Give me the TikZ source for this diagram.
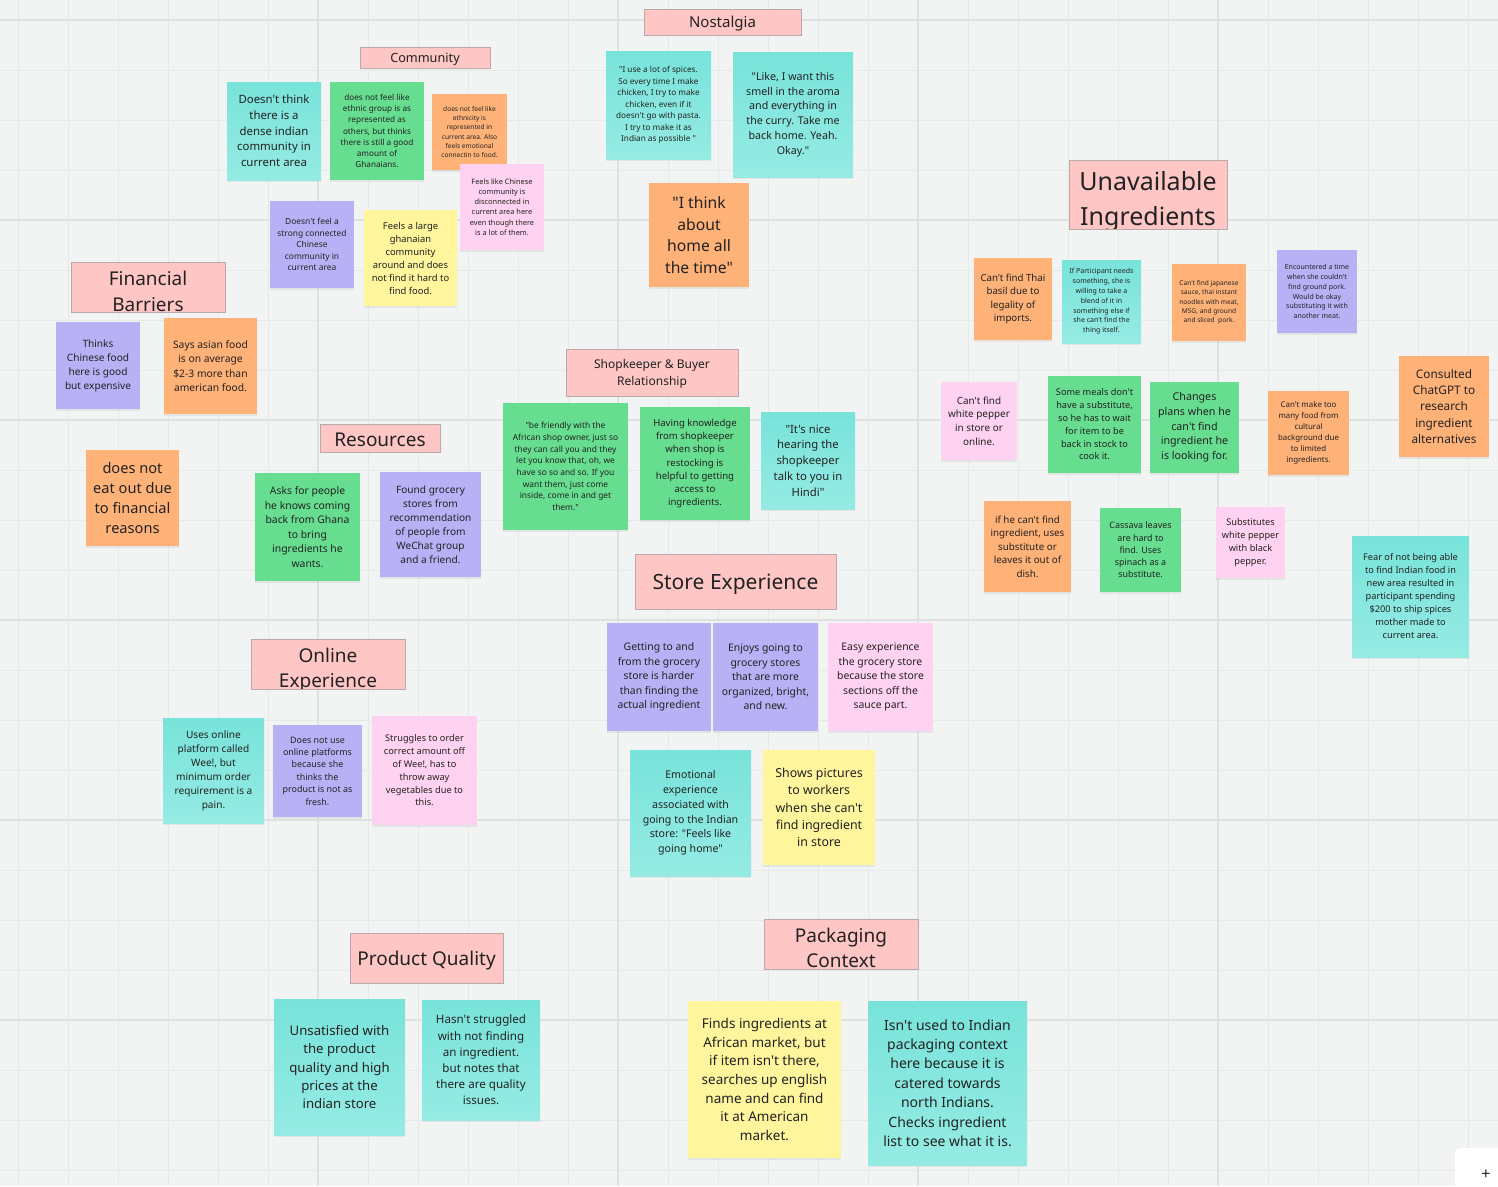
\documentclass[tikz,border=0pt]{standalone}
\usepackage{fontspec}
\setmainfont{Noto Sans}[Ligatures=TeXOff]
\usetikzlibrary{shadows}
\definecolor{bgC}{HTML}{F2F3F3}
\definecolor{gridC}{HTML}{E7E8E8}
\definecolor{gridM}{HTML}{E0E1E1}
\definecolor{txtC}{HTML}{222222}
\definecolor{hdrC}{HTML}{FFC6C6}
\definecolor{hdrB}{HTML}{B9A9A9}
\definecolor{cyanT}{HTML}{78E3DA}
\definecolor{cyanB}{HTML}{95EBE3}
\definecolor{greenC}{HTML}{67DE8F}
\definecolor{orangeC}{HTML}{FFB278}
\definecolor{purpleC}{HTML}{B9B1F6}
\definecolor{pinkC}{HTML}{FFD2F1}
\definecolor{yellowC}{HTML}{FFF59D}
\tikzset{
  note/.style={rectangle, inner sep=0pt, align=center, text=txtC,
    drop shadow={opacity=0.13, shadow xshift=0pt, shadow yshift=-1.5pt}},
  cyanN/.style={note, top color=cyanT, bottom color=cyanB},
  greenN/.style={note, fill=greenC},
  orangeN/.style={note, fill=orangeC},
  purpleN/.style={note, fill=purpleC},
  pinkN/.style={note, fill=pinkC},
  yellowN/.style={note, fill=yellowC},
  hdr/.style={rectangle, inner sep=0pt, fill=hdrC, draw=hdrB, line width=1pt},
  htxt/.style={inner sep=0pt, align=center, text=txtC},
  gridminor/.style={gridC, line width=1pt},
  gridmajor/.style={gridM, line width=1.4pt},
}
% name, style, x1, y1, x2, y2, fontsize, leading, text
\newcommand\sticky[9]{%
  \pgfmathsetmacro\sw{#5-#3}\pgfmathsetmacro\sh{#6-#4}%
  \pgfmathsetmacro\scx{(#3+#5)/2}\pgfmathsetmacro\scy{(#4+#6)/2}%
  \node[#2, minimum width=\sw pt, minimum height=\sh pt,
        font={\fontsize{#7}{#8}\selectfont}] (#1) at (\scx,\scy) {#9};}
% name, x1, y1, x2, y2, fontsize, leading, text centre y, text
\newcommand\header[9]{%
  \pgfmathsetmacro\sw{#4-#2}\pgfmathsetmacro\sh{#5-#3}%
  \pgfmathsetmacro\scx{(#2+#4)/2}\pgfmathsetmacro\scy{(#3+#5)/2}%
  \node[hdr, minimum width=\sw pt, minimum height=\sh pt] (#1) at (\scx,\scy) {};
  \begin{scope}
    \clip (#2+1,#3+1) rectangle (#4-1,#5-1);
    \node[htxt, font={\fontsize{#6}{#7}\selectfont}] (#1-t) at (\scx,#8) {#9};
  \end{scope}}
\begin{document}
\begin{tikzpicture}[x=1pt,y=-1pt]
\fill[bgC] (0,0) rectangle (1498,1186);
\useasboundingbox (0,0) rectangle (1498,1186);
\foreach \gx in {18,68,...,1498} \draw[gridminor] (\gx,0) -- (\gx,1186);
\foreach \gy in {20,70,...,1186} \draw[gridminor] (0,\gy) -- (1498,\gy);
\foreach \gx in {318,618,918,1218} \draw[gridmajor] (\gx,0) -- (\gx,1186);
\foreach \gy in {20,220,420,620,820,1020} \draw[gridmajor] (0,\gy) -- (1498,\gy);

% ---------- headers ----------
\header{nost}{644}{9}{801}{35}{15}{19}{24}{Nostalgia}
\header{comm}{360}{47}{490}{68}{12.7}{16}{59.5}{Community}
\header{unav}{1069}{160}{1227}{229}{25}{35}{201.5}{Unavailable\\Ingredients}
\header{fin}{71}{262}{225}{312}{19}{26}{291.5}{Financial\\Barriers}
\header{shop}{566}{349}{738}{396}{12}{17}{373.5}{Shopkeeper \& Buyer\\Relationship}
\header{res}{320}{424}{440}{452}{19}{24}{440}{Resources}
\header{store}{635}{554}{836}{609}{21}{26}{584}{Store Experience}
\header{online}{251}{639}{405}{689}{19}{25}{670.5}{Online\\Experience}
\header{pq}{350}{933}{503}{983}{19}{24}{960.5}{Product Quality}
\header{pack}{764}{919}{918}{969}{19}{25}{948}{Packaging\\Context}

% ---------- community ----------
\sticky{ca}{cyanN}{227}{82}{321}{180}{11.4}{15.7}{Doesn't think\\there is a\\dense indian\\community in\\current area}
\sticky{cb}{greenN}{330}{82}{424}{180}{8.2}{11.3}{does not feel like\\ethnic group is as\\represented as\\others, but thinks\\there is still a good\\amount of\\Ghanaians.}
\sticky{cc}{orangeN}{432}{94}{507}{170}{6.6}{9.2}{does not feel like\\ethnicity is\\represented in\\current area. Also\\feels emotional\\connectin to food.}
\sticky{cd}{pinkN}{460}{164}{544}{250}{7.4}{10.3}{Feels like Chinese\\community is\\disconnected in\\current area here\\even though there\\is a lot of them.}
\sticky{ce}{purpleN}{270}{201}{354}{288}{8.4}{11.6}{Doesn't feel a\\strong connected\\Chinese\\community in\\current area}
\sticky{cf}{yellowN}{364}{210}{457}{306}{9.4}{13}{Feels a large\\ghanaian\\community\\around and does\\not find it hard to\\find food.}

% ---------- nostalgia ----------
\sticky{na}{cyanN}{606}{51}{711}{159}{8.2}{11.5}{"I use a lot of spices.\\So every time I make\\chicken, I try to make\\chicken, even if it\\doesn't go with pasta.\\I try to make it as\\Indian as possible "}
\sticky{nb}{cyanN}{733}{52}{853}{177}{10.7}{14.7}{"Like, I want this\\smell in the aroma\\and everything in\\the curry. Take me\\back home. Yeah.\\Okay."}
\sticky{nc}{orangeN}{649}{183}{749}{287}{15.7}{21.7}{"I think\\about\\home all\\the time"}

% ---------- unavailable ingredients ----------
\sticky{ua}{orangeN}{974}{258}{1052}{340}{9.7}{13.4}{Can’t find Thai\\basil due to\\legality of\\imports.}
\sticky{ub}{cyanN}{1062}{260}{1141}{343}{7}{9.8}{If Participant needs\\something, she is\\willing to take a\\blend of it in\\something else if\\she can't find the\\thing itself.}
\sticky{uc}{orangeN}{1172}{264}{1246}{341}{6.6}{9.3}{Can't find japanese\\sauce, thai instant\\noodles with meat,\\MSG, and ground\\and sliced\ \ pork.}
\sticky{ud}{purpleN}{1277}{250}{1357}{333}{7}{9.8}{Encountered a time\\when she couldn't\\find ground pork.\\Would be okay\\substituting it with\\another meat.}
\sticky{ue}{pinkN}{941}{382}{1017}{460}{9.9}{13.7}{Can't find\\white pepper\\in store or\\online.}
\sticky{uf}{greenN}{1048}{376}{1141}{473}{9.2}{12.8}{Some meals don't\\have a substitute,\\so he has to wait\\for item to be\\back in stock to\\cook it.}
\sticky{ug}{greenN}{1150}{382}{1239}{473}{10.7}{14.7}{Changes\\plans when he\\can't find\\ingredient he\\is looking for.}
\sticky{uh}{orangeN}{1268}{391}{1349}{475}{7.9}{11}{Can't make too\\many food from\\cultural\\background due\\to limited\\ingredients.}
\sticky{ui}{orangeN}{1399}{356}{1489}{457}{11.8}{16.3}{Consulted\\ChatGPT to\\research\\ingredient\\alternatives}
\sticky{uj}{orangeN}{984}{501}{1071}{592}{9.8}{13.5}{if he can't find\\ingredient, uses\\substitute or\\leaves it out of\\dish.}
\sticky{uk}{greenN}{1100}{508}{1181}{592}{8.9}{12.3}{Cassava leaves\\are hard to\\find. Uses\\spinach as a\\substitute.}
\sticky{ul}{pinkN}{1216}{507}{1285}{578}{9.2}{12.8}{Substitutes\\white pepper\\with black\\pepper.}
\sticky{um}{cyanN}{1352}{536}{1469}{657}{9.2}{13}{Fear of not being able\\to find Indian food in\\new area resulted in\\participant spending\\\$200 to ship spices\\mother made to\\current area.}

% ---------- financial ----------
\sticky{fa}{purpleN}{56}{322}{140}{409}{10.1}{14}{Thinks\\Chinese food\\here is good\\but expensive}
\sticky{fb}{orangeN}{164}{318}{257}{414}{10.3}{14.3}{Says asian food\\is on average\\\$2-3 more than\\american food.}
\sticky{fc}{orangeN}{86}{450}{179}{546}{14.6}{20.2}{does not\\eat out due\\to financial\\reasons}

% ---------- resources ----------
\sticky{ra}{greenN}{255}{473}{360}{581}{10.4}{14.5}{Asks for people\\he knows coming\\back from Ghana\\to bring\\ingredients he\\wants.}
\sticky{rb}{purpleN}{380}{472}{481}{577}{10.1}{14}{Found grocery\\stores from\\recommendation\\of people from\\WeChat group\\and a friend.}

% ---------- shopkeeper ----------
\sticky{sa}{greenN}{503}{403}{628}{530}{8.4}{11.7}{"be friendly with the\\African shop owner, just so\\they can call you and they\\let you know that, oh, we\\have so so and so. If you\\want them, just come\\inside, come in and get\\them."}
\sticky{sb}{greenN}{640}{407}{750}{520}{9.6}{13.3}{Having knowledge\\from shopkeeper\\when shop is\\restocking is\\helpful to getting\\access to\\ingredients.}
\sticky{sc}{cyanN}{761}{412}{855}{509}{11.3}{15.7}{"It's nice\\hearing the\\shopkeeper\\talk to you in\\Hindi"}

% ---------- store experience ----------
\sticky{ea}{purpleN}{607}{623}{711}{731}{10.4}{14.5}{Getting to and\\from the grocery\\store is harder\\than finding the\\actual ingredient}
\sticky{eb}{purpleN}{713}{623}{818}{731}{10.4}{14.5}{Enjoys going to\\grocery stores\\that are more\\organized, bright,\\and new.}
\sticky{ec}{pinkN}{828}{623}{933}{731}{10.4}{14.5}{Easy experience\\the grocery store\\because the store\\sections off the\\sauce part.}
\sticky{ed}{cyanN}{630}{750}{751}{876}{10.6}{14.8}{Emotional\\experience\\associated with\\going to the Indian\\store: "Feels like\\going home"}
\sticky{ee}{yellowN}{763}{750}{875}{865}{12.4}{17.3}{Shows pictures\\to workers\\when she can't\\find ingredient\\in store}

% ---------- online ----------
\sticky{oa}{cyanN}{163}{718}{264}{823}{10.1}{14}{Uses online\\platform called\\Wee!, but\\minimum order\\requirement is a\\pain.}
\sticky{ob}{purpleN}{273}{725}{362}{817}{8.9}{12.4}{Does not use\\online platforms\\because she\\thinks the\\product is not as\\fresh.}
\sticky{oc}{pinkN}{372}{716}{477}{825}{9.2}{12.8}{Struggles to order\\correct amount off\\of Wee!, has to\\throw away\\vegetables due to\\this.}

% ---------- product quality ----------
\sticky{qa}{cyanN}{274}{999}{405}{1135}{13.2}{18.3}{Unsatisfied with\\the product\\quality and high\\prices at the\\indian store}
\sticky{qb}{cyanN}{422}{1000}{540}{1120}{11.6}{16.2}{Hasn't struggled\\with not finding\\an ingredient.\\but notes that\\there are quality\\issues.}

% ---------- packaging ----------
\sticky{pa}{yellowN}{688}{1001}{841}{1158}{13.5}{18.7}{Finds ingredients at\\African market, but\\if item isn't there,\\searches up english\\name and can find\\it at American\\market.}
\sticky{pb}{cyanN}{868}{1001}{1027}{1165}{14}{19.4}{Isn't used to Indian\\packaging context\\here because it is\\catered towards\\north Indians.\\Checks ingredient\\list to see what it is.}

% ---------- corner control ----------
\node[rectangle, rounded corners=6pt, fill=white, inner sep=0pt, minimum width=60pt, minimum height=50pt,
      drop shadow={opacity=0.10, shadow xshift=0pt, shadow yshift=0pt}] (zoomui) at (1485,1173) {};
\node[inner sep=0pt, font={\fontsize{16}{16}\selectfont\bfseries}, text=txtC] (zoomplus) at (1486,1175) {+};
\end{tikzpicture}
\end{document}
